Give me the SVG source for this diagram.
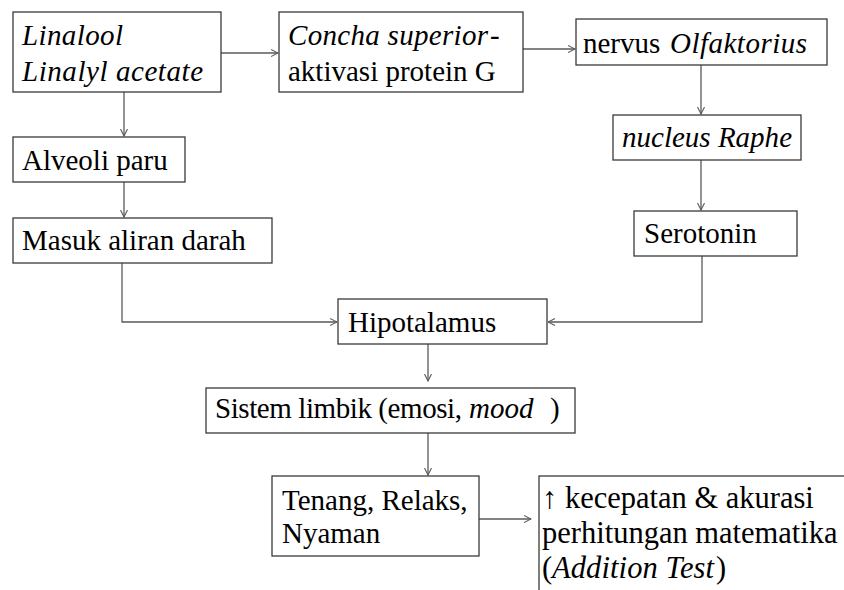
<svg xmlns="http://www.w3.org/2000/svg" width="844" height="590" viewBox="0 0 844 590">
<style>
.box{fill:#fff;stroke:#3a3a3a;stroke-width:1.3}
.t{font-family:"Liberation Serif","Times New Roman",serif;font-size:29px;fill:#000}
.i{font-style:italic}
.b{font-size:30.5px}
.c{fill:none;stroke:#5a5a5a;stroke-width:1.3}
</style>
<defs>
<marker id="ah" viewBox="0 0 8 8" refX="7.5" refY="4" markerWidth="8" markerHeight="8" markerUnits="userSpaceOnUse" orient="auto">
<path d="M0.5,0.5 L7.5,4 L0.5,7.5" fill="none" stroke="#5a5a5a" stroke-width="1.1"/>
</marker>
</defs>
<rect width="844" height="590" fill="#fff"/>
<g id="connectors">
<path class="c" d="M221,53 H278" marker-end="url(#ah)"/>
<path class="c" d="M523,49 H575" marker-end="url(#ah)"/>
<path class="c" d="M124,92 V136" marker-end="url(#ah)"/>
<path class="c" d="M124,182 V217" marker-end="url(#ah)"/>
<path class="c" d="M122,263 V322 H337" marker-end="url(#ah)"/>
<path class="c" d="M701,65 V114" marker-end="url(#ah)"/>
<path class="c" d="M701,160 V210" marker-end="url(#ah)"/>
<path class="c" d="M702,256 V322 H548" marker-end="url(#ah)"/>
<path class="c" d="M428,344 V381" marker-end="url(#ah)"/>
<path class="c" d="M428,433 V475" marker-end="url(#ah)"/>
<path class="c" d="M479,519 H531" marker-end="url(#ah)"/>
</g>
<g id="linalool">
<rect class="box" x="13" y="12" width="208" height="80"/>
<text class="t i" x="22" y="45" textLength="101">Linalool</text>
<text class="t i" x="22" y="81" textLength="181">Linalyl acetate</text>
</g>
<g id="concha">
<rect class="box" x="279" y="12" width="244" height="80"/>
<text class="t i" x="288" y="45" textLength="200">Concha superior</text>
<text class="t" x="490" y="45">-</text>
<text class="t" x="288" y="81">aktivasi protein G</text>
</g>
<g id="nervus">
<rect class="box" x="576" y="19" width="251" height="46"/>
<text class="t" x="583" y="53">nervus</text>
<text class="t i" x="670" y="53" textLength="137">Olfaktorius</text>
</g>
<g id="nucleus">
<rect class="box" x="613" y="115" width="188" height="45"/>
<text class="t i" x="622" y="147" textLength="170">nucleus Raphe</text>
</g>
<g id="serotonin">
<rect class="box" x="634" y="211" width="163" height="45"/>
<text class="t" x="644" y="243">Serotonin</text>
</g>
<g id="alveoli">
<rect class="box" x="13" y="137" width="172" height="45"/>
<text class="t" x="22" y="170">Alveoli paru</text>
</g>
<g id="masuk">
<rect class="box" x="13" y="218" width="259" height="45"/>
<text class="t" x="22" y="250">Masuk aliran darah</text>
</g>
<g id="hipotalamus">
<rect class="box" x="338" y="299" width="209" height="45"/>
<text class="t" x="348" y="332">Hipotalamus</text>
</g>
<g id="sistem">
<rect class="box" x="206" y="388" width="369" height="45"/>
<text class="t" x="215" y="418" textLength="247">Sistem limbik (emosi,</text>
<text class="t i" x="469" y="418">mood</text>
<text class="t" x="550" y="418">)</text>
</g>
<g id="tenang">
<rect class="box" x="272" y="476" width="207" height="80"/>
<text class="t" x="282" y="510">Tenang, Relaks,</text>
<text class="t" x="282" y="543">Nyaman</text>
</g>
<g id="hasil">
<rect class="box" x="539" y="476" width="330" height="130"/>
<text class="t b" x="542" y="508">↑ kecepatan &amp; akurasi</text>
<text class="t b" x="542" y="543">perhitungan matematika</text>
<text class="t b" x="542" y="578">(</text>
<text class="t b i" x="552" y="578" textLength="162">Addition Test</text>
<text class="t b" x="716" y="578">)</text>
</g>
</svg>
